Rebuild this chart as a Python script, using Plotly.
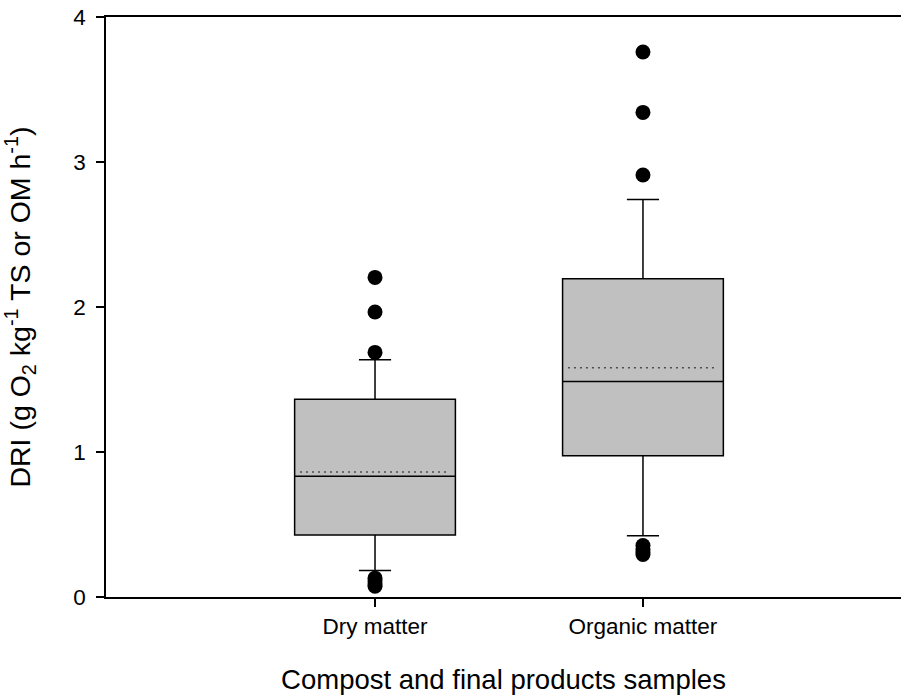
import plotly.graph_objects as go

categories = ["Dry matter", "Organic matter"]
q1 = [0.428, 0.974]
median = [0.832, 1.487]
q3 = [1.364, 2.195]
lower_fence = [0.183, 0.423]
upper_fence = [1.637, 2.742]
means = [0.862, 1.581]
outliers = [
    [2.204, 1.966, 1.687, 0.13, 0.11, 0.09, 0.075],
    [3.759, 3.342, 2.910, 0.355, 0.33, 0.31, 0.293],
]
y_ticks = [0, 1, 2, 3, 4]

FONT = "Liberation Sans, Arial, sans-serif"
BOX_W = 0.6
MEAN_W = 0.56

fig = go.Figure()
for i, cat in enumerate(categories):
    fig.add_trace(go.Box(
        x=[i], q1=[q1[i]], median=[median[i]], q3=[q3[i]],
        lowerfence=[lower_fence[i]], upperfence=[upper_fence[i]],
        width=BOX_W, whiskerwidth=0.2, boxpoints=False,
        fillcolor="#c0c0c0", line=dict(color="black", width=1.5),
        showlegend=False, hoverinfo="skip",
    ))
    fig.add_trace(go.Scatter(
        x=[i - MEAN_W / 2, i + MEAN_W / 2], y=[means[i], means[i]],
        mode="lines", line=dict(color="#4d4d4d", width=1.5, dash="2px,4px"),
        showlegend=False, hoverinfo="skip",
    ))
    fig.add_trace(go.Scatter(
        x=[i] * len(outliers[i]), y=outliers[i], mode="markers",
        marker=dict(color="black", size=15),
        showlegend=False, hoverinfo="skip",
    ))

fig.update_layout(
    width=901, height=698,
    margin=dict(l=106, r=0, t=17, b=101),
    plot_bgcolor="white", paper_bgcolor="white",
    font=dict(family=FONT, color="black", size=22.5),
)
fig.update_xaxes(
    range=[-1.004, 1.963], tickvals=[0, 1], ticktext=categories,
    showline=True, linecolor="black", linewidth=1.5, mirror=True,
    ticks="outside", ticklen=8, tickwidth=1.5, tickcolor="black",
    showgrid=False, zeroline=False,
    tickfont=dict(size=22.5, family=FONT),
    title=dict(text="Compost and final products samples",
               font=dict(size=27.5, family=FONT), standoff=32),
)
fig.update_yaxes(
    range=[0, 4], tickvals=y_ticks,
    showline=True, linecolor="black", linewidth=1.5,
    ticks="outside", ticklen=8, tickwidth=1.5, tickcolor="black",
    ticklabelstandoff=6,
    showgrid=False, zeroline=False,
    tickfont=dict(size=22.5, family=FONT),
    title=dict(text="DRI (g O<sub>2</sub> kg<sup>-1</sup> TS or OM h<sup>-1</sup>)",
               font=dict(size=28.5, family=FONT), standoff=34),
)

fig.write_html("out.html")
